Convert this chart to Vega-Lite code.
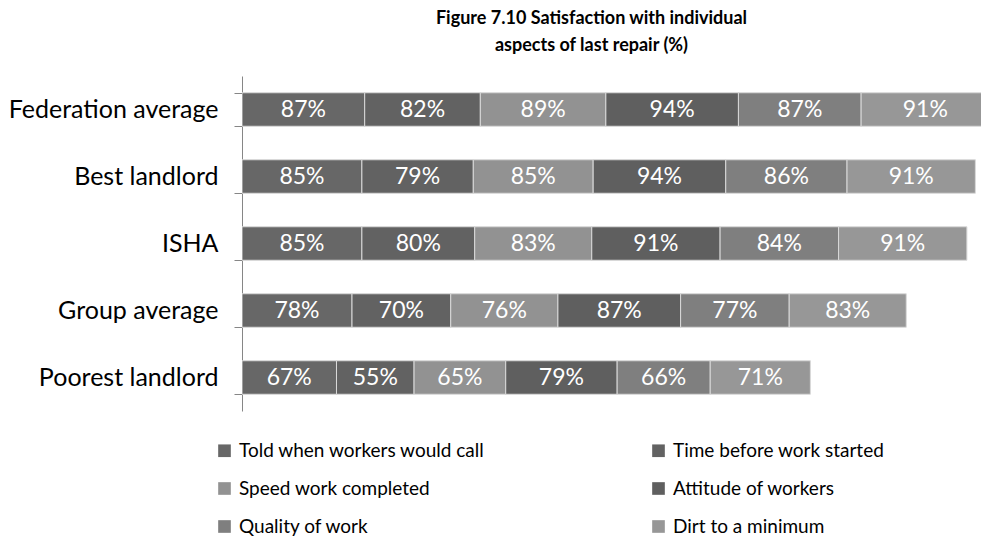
{
  "$schema": "https://vega.github.io/schema/vega-lite/v6.json",
  "width": 739,
  "height": 335,
  "autosize": "none",
  "padding": {"left": 242, "top": 76, "right": 0, "bottom": 137},
  "background": "white",
  "title": {
    "text": ["Figure 7.10 Satisfaction with individual", "aspects of last repair (%)"],
    "font": "Lato",
    "fontSize": 18,
    "fontWeight": "bold",
    "color": "#000000",
    "anchor": "middle",
    "dx": -20,
    "offset": 9,
    "lineHeight": 27
  },
  "data": {
    "values": [
      {"landlord": "Federation average", "series": "Told when workers would call", "idx": 1, "value": 0.87},
      {"landlord": "Federation average", "series": "Time before work started", "idx": 2, "value": 0.82},
      {"landlord": "Federation average", "series": "Speed work completed", "idx": 3, "value": 0.89},
      {"landlord": "Federation average", "series": "Attitude of workers", "idx": 4, "value": 0.94},
      {"landlord": "Federation average", "series": "Quality of work", "idx": 5, "value": 0.87},
      {"landlord": "Federation average", "series": "Dirt to a minimum", "idx": 6, "value": 0.91},
      {"landlord": "Best landlord", "series": "Told when workers would call", "idx": 1, "value": 0.85},
      {"landlord": "Best landlord", "series": "Time before work started", "idx": 2, "value": 0.79},
      {"landlord": "Best landlord", "series": "Speed work completed", "idx": 3, "value": 0.85},
      {"landlord": "Best landlord", "series": "Attitude of workers", "idx": 4, "value": 0.94},
      {"landlord": "Best landlord", "series": "Quality of work", "idx": 5, "value": 0.86},
      {"landlord": "Best landlord", "series": "Dirt to a minimum", "idx": 6, "value": 0.91},
      {"landlord": "ISHA", "series": "Told when workers would call", "idx": 1, "value": 0.85},
      {"landlord": "ISHA", "series": "Time before work started", "idx": 2, "value": 0.80},
      {"landlord": "ISHA", "series": "Speed work completed", "idx": 3, "value": 0.83},
      {"landlord": "ISHA", "series": "Attitude of workers", "idx": 4, "value": 0.91},
      {"landlord": "ISHA", "series": "Quality of work", "idx": 5, "value": 0.84},
      {"landlord": "ISHA", "series": "Dirt to a minimum", "idx": 6, "value": 0.91},
      {"landlord": "Group average", "series": "Told when workers would call", "idx": 1, "value": 0.78},
      {"landlord": "Group average", "series": "Time before work started", "idx": 2, "value": 0.70},
      {"landlord": "Group average", "series": "Speed work completed", "idx": 3, "value": 0.76},
      {"landlord": "Group average", "series": "Attitude of workers", "idx": 4, "value": 0.87},
      {"landlord": "Group average", "series": "Quality of work", "idx": 5, "value": 0.77},
      {"landlord": "Group average", "series": "Dirt to a minimum", "idx": 6, "value": 0.83},
      {"landlord": "Poorest landlord", "series": "Told when workers would call", "idx": 1, "value": 0.67},
      {"landlord": "Poorest landlord", "series": "Time before work started", "idx": 2, "value": 0.55},
      {"landlord": "Poorest landlord", "series": "Speed work completed", "idx": 3, "value": 0.65},
      {"landlord": "Poorest landlord", "series": "Attitude of workers", "idx": 4, "value": 0.79},
      {"landlord": "Poorest landlord", "series": "Quality of work", "idx": 5, "value": 0.66},
      {"landlord": "Poorest landlord", "series": "Dirt to a minimum", "idx": 6, "value": 0.71}
    ]
  },
  "encoding": {
    "y": {
      "field": "landlord",
      "type": "nominal",
      "sort": ["Federation average", "Best landlord", "ISHA", "Group average", "Poorest landlord"],
      "scale": {"paddingInner": 0.5, "paddingOuter": 0.25},
      "axis": {
        "title": null,
        "domainColor": "#868686",
        "tickColor": "#868686",
        "tickSize": 8,
        "tickBand": "extent",
        "labelPadding": 16,
        "labelFont": "Lato",
        "labelFontSize": 25,
        "labelColor": "#000000",
        "labelLimit": 300
      }
    },
    "order": {"field": "idx", "type": "quantitative"}
  },
  "layer": [
    {
      "mark": {"type": "bar", "stroke": "#d9d9d9", "strokeWidth": 1, "clip": true},
      "encoding": {
        "x": {"field": "value", "type": "quantitative", "stack": "zero", "scale": {"domain": [0, 5.24], "nice": false}, "axis": null},
        "color": {
          "field": "series",
          "type": "nominal",
          "scale": {
            "domain": ["Told when workers would call", "Speed work completed", "Quality of work", "Time before work started", "Attitude of workers", "Dirt to a minimum"],
            "range": ["#676767", "#929292", "#7f7f7f", "#626262", "#5f5f5f", "#979797"]
          },
          "legend": {
            "title": null,
            "orient": "none",
            "legendX": -27,
            "legendY": 365,
            "columns": 2,
            "columnPadding": 164,
            "rowPadding": 18,
            "symbolType": "square",
            "symbolSize": 160,
            "symbolStrokeWidth": 0,
            "labelFont": "Lato",
            "labelFontSize": 19,
            "labelColor": "#000000",
            "labelOffset": 5,
            "labelLimit": 400
          }
        }
      }
    },
    {
      "mark": {"type": "text", "color": "white", "font": "Lato", "fontSize": 23, "clip": true},
      "encoding": {
        "x": {"field": "value", "type": "quantitative", "stack": "zero", "bandPosition": 0.5, "scale": {"domain": [0, 5.24], "nice": false}, "axis": null},
        "detail": {"field": "series", "type": "nominal"},
        "text": {"field": "value", "type": "quantitative", "format": ".0%"}
      }
    }
  ],
  "config": {"view": {"stroke": null}}
}
